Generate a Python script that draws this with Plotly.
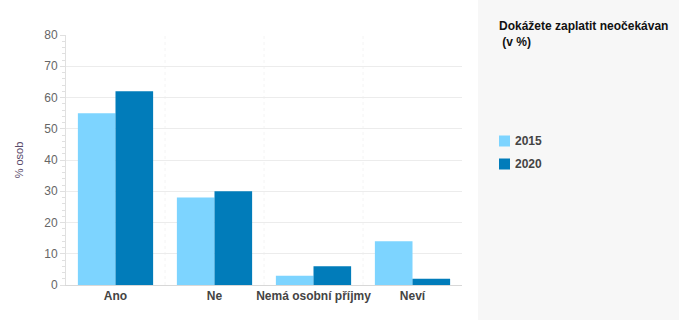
import plotly.graph_objects as go

categories = ["Ano", "Ne", "Nemá osobní příjmy", "Neví"]
series_names = ["2015", "2020"]
values_2015 = [55, 28, 3, 14]
values_2020 = [62, 30, 6, 2]
colors = ["#7DD4FF", "#017CBA"]
y_ticks = [0, 10, 20, 30, 40, 50, 60, 70, 80]
title_text = "Dokážete zaplatit neočekávan<br> (v %)"
y_title = "% osob"

W, H = 679, 320
L, R, T, B = 66, 217, 35, 35

fig = go.Figure()
for name, vals, col in zip(series_names, [values_2015, values_2020], colors):
    fig.add_trace(go.Bar(x=categories, y=vals, name=name, marker_color=col,
                         marker_line_width=0, showlegend=False))

font = "Liberation Sans, Arial, sans-serif"
fig.update_layout(
    width=W, height=H,
    margin=dict(l=L, r=R, t=T, b=B),
    paper_bgcolor="white", plot_bgcolor="white",
    barmode="group", bargap=0.24, bargroupgap=0,
    font=dict(family=font, size=12, color="#555"),
    xaxis=dict(showgrid=False, showline=True, linecolor="#d8d8d8", linewidth=1,
               ticks="", tickfont=dict(size=12, color="#444", family=font, weight="bold")),
    yaxis=dict(range=[0, 80], tickvals=y_ticks, showgrid=True, gridcolor="#ececec",
               showline=True, linecolor="#e0e0e0", zeroline=False,
               ticks="outside", ticklen=5, tickcolor="#e0e0e0",
               minor=dict(dtick=2, ticks="outside", ticklen=3, tickcolor="#e0e0e0", showgrid=False),
               tickfont=dict(size=12, color="#666"),
               title=dict(text=y_title, font=dict(size=11, color="#5a4a6a"), standoff=18)),
)

# faint separators between categories
for i in range(len(categories) - 1):
    fig.add_shape(type="line", xref="x", yref="y", x0=i + 0.5, x1=i + 0.5, y0=0, y1=80,
                  line=dict(color="#f4f4f4", width=1, dash="dot"), layer="below")

# right gray panel
px = lambda p: (p - L) / (W - L - R)
py = lambda p: (H - B - p) / (H - T - B)
fig.add_shape(type="rect", xref="paper", yref="paper", x0=px(478), x1=px(W), y0=py(H), y1=py(0),
              fillcolor="#f7f7f7", line_width=0, layer="below")
fig.add_annotation(xref="paper", yref="paper", x=px(497), y=py(17), xanchor="left", yanchor="top",
                   text="<b>" + title_text.replace("<br>", "</b><br><b>") + "</b>", showarrow=False,
                   align="left", font=dict(size=12, color="#111", family=font))

for k, (name, col) in enumerate(zip(series_names, colors)):
    yc = 141 + 23 * k
    fig.add_shape(type="rect", xref="paper", yref="paper", x0=px(499), x1=px(510),
                  y0=py(yc + 5.5), y1=py(yc - 5.5), fillcolor=col, line_width=0)
    fig.add_annotation(xref="paper", yref="paper", x=px(513), y=py(yc), xanchor="left", yanchor="middle",
                       text="<b>" + name + "</b>", showarrow=False,
                       font=dict(size=12, color="#444", family=font))

fig.write_html("out.html")
